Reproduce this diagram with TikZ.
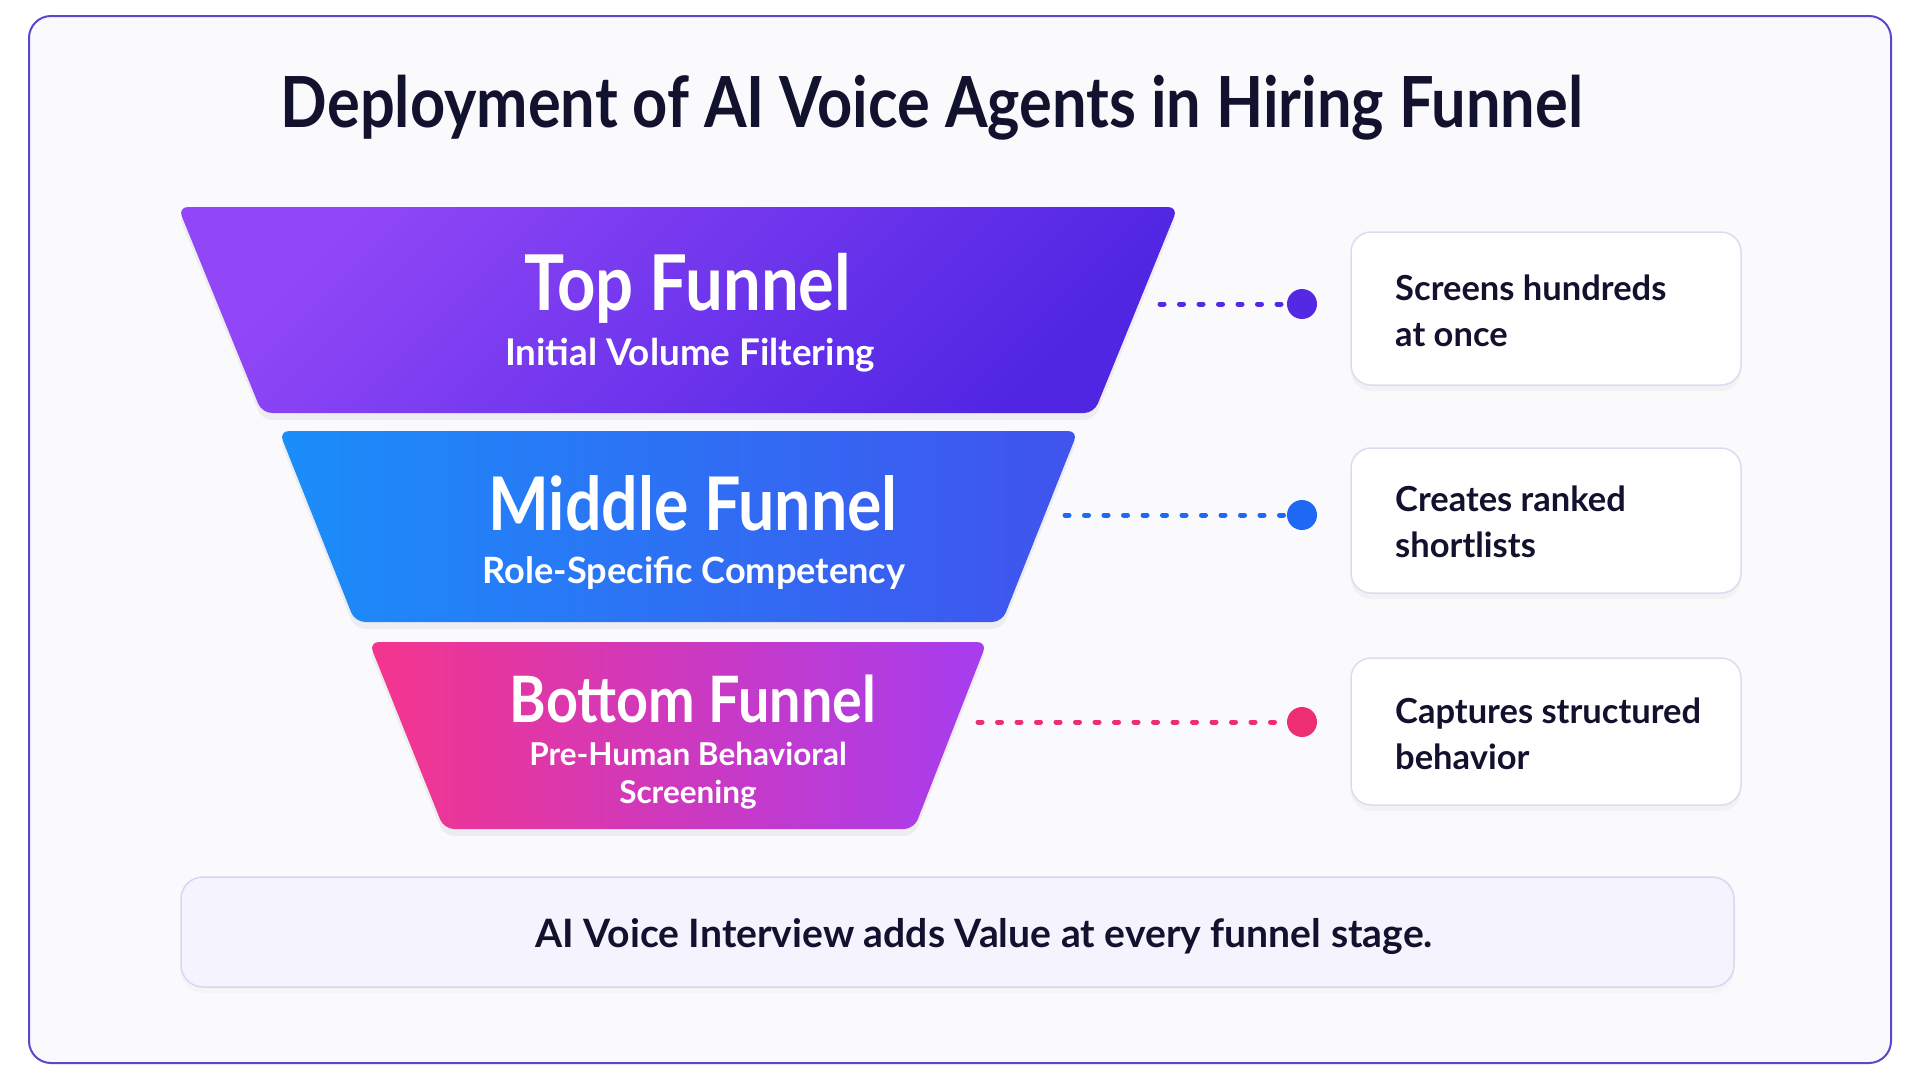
\documentclass[tikz,border=0pt]{standalone}
\usepackage{fontspec}
\setmainfont{Lato}
\newfontfamily\headfont{Lato}[FakeStretch=0.87]
\usetikzlibrary{shadows}
\definecolor{ink}{HTML}{13122E}
\definecolor{framec}{HTML}{5A48C8}
\definecolor{framebg}{HTML}{FAFAFD}
\definecolor{cardline}{HTML}{DEDBF0}
\definecolor{bannerbg}{HTML}{F5F3FD}
\definecolor{bannerline}{HTML}{DAD5F0}
\definecolor{topA}{HTML}{9147F7}
\definecolor{topB}{HTML}{5026E3}
\definecolor{midA}{HTML}{1A8EFA}
\definecolor{midB}{HTML}{4153EE}
\definecolor{botA}{HTML}{F5358D}
\definecolor{botB}{HTML}{A63DF0}
\definecolor{cA}{HTML}{5528E4}
\definecolor{cB}{HTML}{1F68F3}
\definecolor{cC}{HTML}{EE2E72}
\tikzset{
  funnel/.style={rounded corners=10pt, draw=none,
    drop shadow={opacity=0.10, shadow xshift=0pt, shadow yshift=-7pt}},
  headtxt/.style={anchor=base, text=white, inner sep=0pt},
  subtxt/.style={anchor=base, text=white, inner sep=0pt, align=center},
  dotnode/.style={circle, minimum size=30pt, inner sep=0pt, outer sep=0pt},
  conn/.style={line width=5pt, line cap=round, dash pattern=on 4pt off 15.5pt},
  card/.style={rectangle, rounded corners=20pt, fill=white, draw=cardline, line width=1.5pt,
    minimum width=390pt, inner sep=0pt,
    drop shadow={opacity=0.06, shadow xshift=0pt, shadow yshift=-6pt}},
  cardtxt/.style={anchor=west, inner sep=0pt, align=left, text=ink,
    font=\bfseries\fontsize{34.5}{46}\selectfont},
  banner/.style={rectangle, rounded corners=22pt, fill=bannerbg, draw=bannerline, line width=1.5pt,
    minimum width=1553pt, minimum height=110pt, inner sep=0pt,
    drop shadow={opacity=0.04, shadow xshift=0pt, shadow yshift=-6pt}},
}
\begin{document}
\begin{tikzpicture}[x=1pt,y=-1pt]
\useasboundingbox (0,0) rectangle (1920,1080);
\fill[white] (0,0) rectangle (1920,1080);
\draw[framec, line width=2pt, fill=framebg, rounded corners=22pt] (29,16) rectangle (1891,1063);

\node[anchor=base, text=ink, inner sep=0pt, font=\headfont\bfseries\fontsize{70.5}{74}\selectfont] (title) at (932,127) {Deployment of AI Voice Agents in Hiring Funnel};

% funnels
\path[funnel, top color=topA, bottom color=topB, shading angle=45]
  (178,207) -- (1178,207) -- (1094,413) -- (262,413) -- cycle;
\path[funnel, left color=midA, right color=midB]
  (279,431) -- (1078,431) -- (1002,622) -- (355,622) -- cycle;
\path[funnel, left color=botA, right color=botB]
  (369,642) -- (987,642) -- (914,829) -- (444,829) -- cycle;
\coordinate (e1) at (1160,304);
\coordinate (e2) at (1065,515);
\coordinate (e3) at (978,722);

\node[headtxt, font=\headfont\bfseries\fontsize{77}{80}\selectfont] (f1t) at (688,310) {Top Funnel};
\node[subtxt, font=\bfseries\fontsize{36.8}{40}\selectfont] (f1s) at (690,365) {Initial Volume Filtering};
\node[headtxt, font=\headfont\bfseries\fontsize{74}{80}\selectfont] (f2t) at (693,530) {Middle Funnel};
\node[subtxt, font=\bfseries\fontsize{36.2}{40}\selectfont] (f2s) at (694,583) {Role-Specific Competency};
\node[headtxt, font=\headfont\bfseries\fontsize{64}{70}\selectfont] (f3t) at (693,722) {Bottom Funnel};
\node[subtxt, font=\bfseries\fontsize{31.5}{38}\selectfont] (f3s) at (688,765) {Pre-Human Behavioral};
\node[subtxt, font=\bfseries\fontsize{31.5}{38}\selectfont] (f3u) at (688,803) {Screening};

% dots
\node[dotnode, fill=cA] (d1) at (1302,304) {};
\node[dotnode, fill=cB] (d2) at (1302,515) {};
\node[dotnode, fill=cC] (d3) at (1302,722) {};

\draw[conn, cA] (e1) -- (d1);
\draw[conn, cB] (e2) -- (d2);
\draw[conn, cC] (e3) -- (d3);

% cards
\node[card, minimum height=153pt] (b1) at (1546,308.5) {};
\node[card, minimum height=145pt] (b2) at (1546,520.5) {};
\node[card, minimum height=147pt] (b3) at (1546,731.5) {};
\node[cardtxt] (b1t) at (1395,311) {Screens hundreds\\at once};
\node[cardtxt] (b2t) at (1395,522) {Creates ranked\\shortlists};
\node[cardtxt] (b3t) at (1395,734) {Captures structured\\behavior};

% banner
\node[banner] (bn) at (957.5,932) {};
\node[anchor=base, text=ink, inner sep=0pt, font=\bfseries\fontsize{39.1}{42}\selectfont] (bnt) at (984,947) {AI Voice Interview adds Value at every funnel stage.};
\end{tikzpicture}
\end{document}
